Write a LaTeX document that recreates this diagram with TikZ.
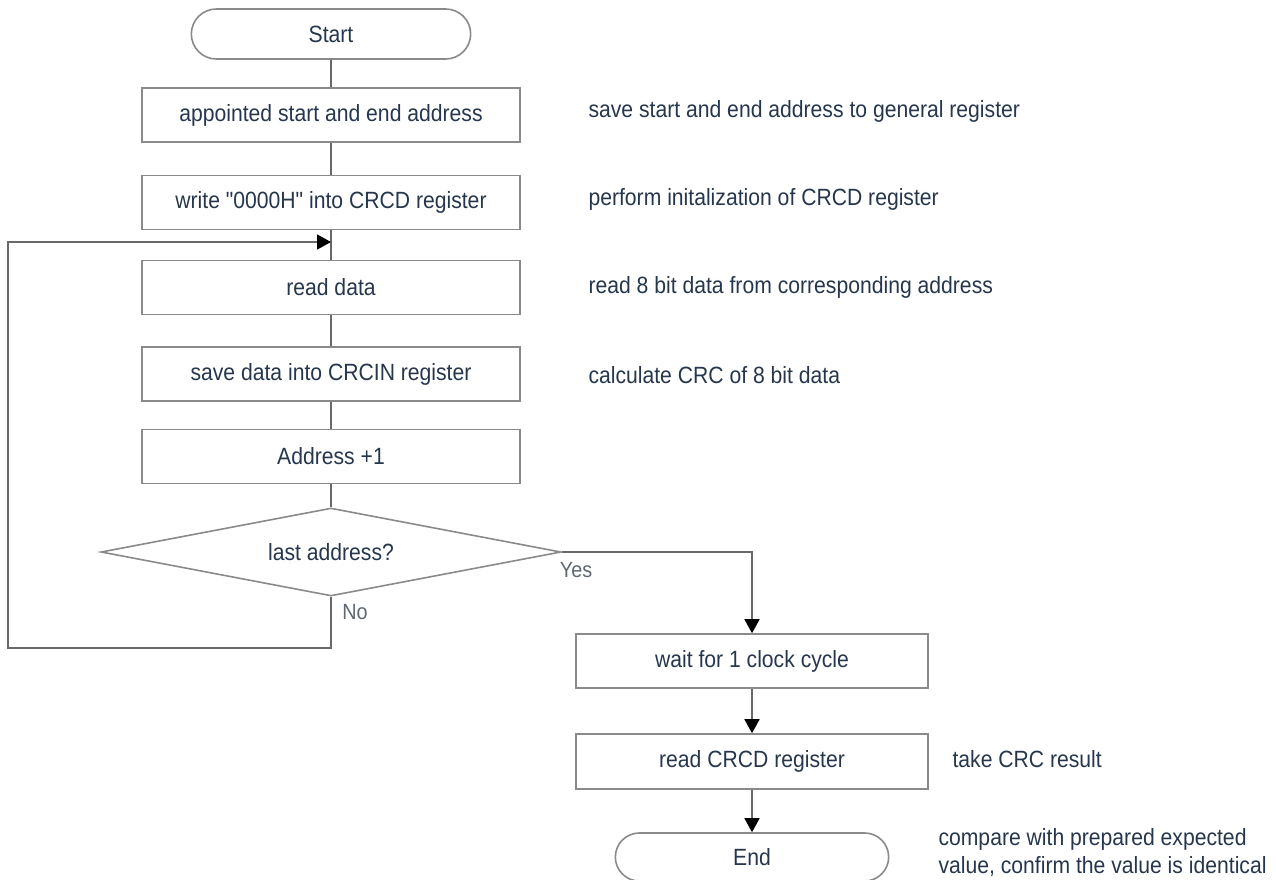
\documentclass[tikz,border=0pt]{standalone}
\usepackage{fontspec}
\setmainfont{Liberation Sans}[FakeStretch=0.9,Ligatures=TeXOff]
\usetikzlibrary{shapes.geometric,shapes.misc,arrows.meta}
\definecolor{inkblue}{RGB}{38,55,77}
\definecolor{edgegray}{RGB}{138,138,138}
\definecolor{wiregray}{RGB}{105,105,105}
\definecolor{tagtext}{RGB}{95,104,114}
\begin{document}
\begin{tikzpicture}[x=1pt,y=-1pt,
    every node/.style={font=\fontsize{23.5}{28}\selectfont,text=inkblue},
    proc/.style={draw=edgegray,line width=1.6pt,minimum width=378pt,minimum height=54pt,inner sep=0pt},
    term/.style={draw=edgegray,line width=1.6pt,rounded rectangle,minimum width=286pt,minimum height=50pt},
    test/.style={draw=edgegray,line width=1.6pt,diamond,aspect=5.227,minimum width=460pt,minimum height=88pt,inner sep=0pt},
    wire/.style={draw=wiregray,line width=1.6pt},
    flow/.style={wire,-{Triangle[width=15pt,length=14pt,color=black]}},
    tag/.style={font=\fontsize{22}{26}\selectfont,text=tagtext},
    note/.style={anchor=west,align=left}]
  \useasboundingbox (0,0) rectangle (1276,879);
  % main column
  \node[term] (start) at (331,34) {Start};
  \node[proc] (addr) at (331,115) {appointed start and end address};
  \node[proc] (init) at (331,202.5) {write "0000H" into CRCD register};
  \node[proc] (read) at (331,287.5) {read data};
  \node[proc] (save) at (331,374) {save data into CRCIN register};
  \node[proc] (incr) at (331,456.5) {Address +1};
  \node[test] (last) at (331,552) {last address?};
  % right column
  \node[proc,minimum width=352pt] (wait) at (752,661) {wait for 1 clock cycle};
  \node[proc,minimum width=352pt,minimum height=55pt] (crcd) at (752,761.5) {read CRCD register};
  \node[term,minimum width=280pt,minimum height=48pt] (stop) at (752,857) {End};
  \coordinate (loop) at (331,242);
  % comments
  \node[note] (n1) at (585,111) {save start and end address to general register};
  \node[note] (n2) at (585,199) {perform initalization of CRCD register};
  \node[note] (n3) at (585,287) {read 8 bit data from corresponding address};
  \node[note] (n4) at (585,375) {calculate CRC of 8 bit data};
  \node[note] (n5) at (949,759) {take CRC result};
  \node[note] (n6) at (935,852) {compare with prepared expected\\value, confirm the value is identical};
  % connectors
  \draw[wire] (start) -- (addr);
  \draw[wire] (addr) -- (init);
  \draw[wire] (init) -- (read);
  \draw[wire] (read) -- (save);
  \draw[wire] (save) -- (incr);
  \draw[wire] (incr) -- (last);
  \draw[flow] (last.south) -- ++(0,51) -| (8,242) -- (loop);
  \draw[flow] (last.east) -| (wait.north);
  \draw[flow] (wait) -- (crcd);
  \draw[flow] (crcd) -- (stop);
  \node[tag] (yes) at (576,570) {Yes};
  \node[tag] (no) at (355,612) {No};
\end{tikzpicture}
\end{document}
